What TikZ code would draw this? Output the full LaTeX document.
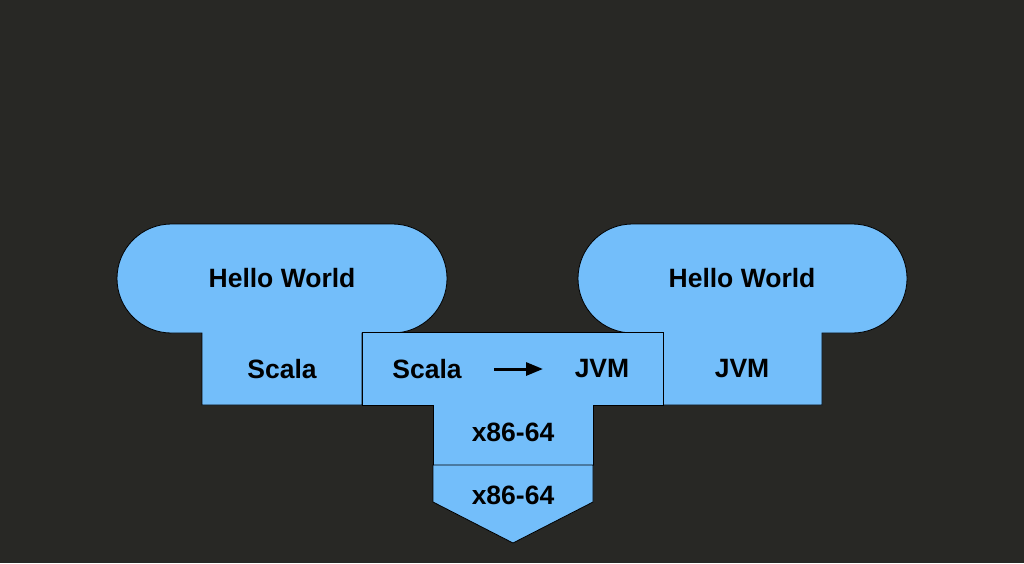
\documentclass[tikz,border=0pt]{standalone}
\usepackage{fontspec}
\setmainfont{Liberation Sans}
\usetikzlibrary{positioning,calc}
\usetikzlibrary{arrows.meta}
\definecolor{sfondo}{RGB}{40,40,37}
\definecolor{azzurro}{RGB}{115,190,250}
\tikzstyle{blocco} = [draw=black, fill=azzurro, line width=0.8pt, line join=miter]
\tikzstyle{testo} = [inner sep=0pt, text=black, font=\bfseries\fontsize{26.5}{30}\selectfont]
\tikzstyle{arrow} = [line width=3pt,-{Triangle[length=17pt,width=13pt]}]

\begin{document}
\begin{tikzpicture}[x=1pt,y=-1pt]
							\fill[sfondo] (0,0) rectangle (1024,563);
							\useasboundingbox (0,0) rectangle (1024,563);
							% Scala a sinistra
							\draw[blocco] (202,405) -- (202,333) -- (171.5,333) arc (90:270:54.5) -- (392.5,224) arc (270:450:54.5) -- (362,333) -- (362,405) -- cycle;
							% JVM a destra
							\draw[blocco] (663,405) -- (663,333) -- (632.5,333) arc (90:270:54.5) -- (852.5,224) arc (270:450:54.5) -- (822,333) -- (822,405) -- cycle;
							% compilatore
							\draw[blocco] (362,332) -- (663,332) -- (663,405) -- (593,405) -- (593,465) -- (433,465) -- (433,405) -- (362,405) -- cycle;
							\draw[blocco] (433,465) -- (593,465) -- (593,502) -- (513,543) -- (433,502) -- cycle;
							\node (h1) at (282,278) [testo] {Hello World};
							\node (h2) at (742,278) [testo] {Hello World};
							\node (s1) at (282,369) [testo] {Scala};
							\node (s2) at (427,369) [testo] {Scala};
							\node (j1) at (602,369) [testo] {JVM};
							\node (j2) at (742,369) [testo] {JVM};
							\node (x1) at (513,432) [testo] {x86-64};
							\node (x2) at (513,495) [testo] {x86-64};
							\coordinate (a1) at (494,369);
							\coordinate (a2) at (543,369);
							\draw[arrow] (a1) -- (a2);
						\end{tikzpicture}
\end{document}
